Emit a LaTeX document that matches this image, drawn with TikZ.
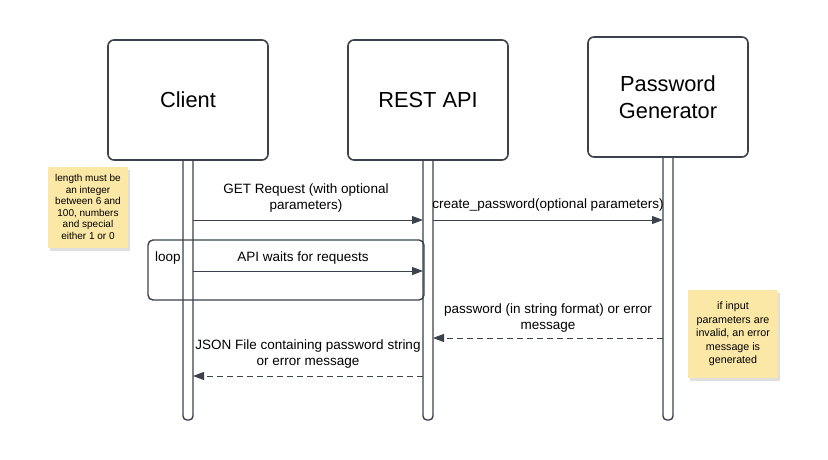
\documentclass[tikz,border=0pt]{standalone}
\usepackage{fontspec}
\setmainfont{Liberation Sans}
\usetikzlibrary{arrows.meta,shadows}
\definecolor{ln}{HTML}{3B424C}
\definecolor{note}{HTML}{FCE8A6}
\tikzset{
  actor/.style={draw=ln, line width=1.6pt, rounded corners=6pt, fill=white, minimum width=160pt, minimum height=120pt, align=center, font=\fontsize{21.8}{27}\selectfont, inner sep=0pt},
  bar/.style={draw=ln, line width=1.4pt, fill=white, rounded corners=4pt},
  msg/.style={draw=ln, line width=0.9pt, -{Triangle[length=11pt,width=8pt]}},
  ret/.style={draw=ln, line width=0.9pt, dash pattern=on 6pt off 4pt, -{Triangle[length=11pt,width=8pt]}},
  lbl/.style={font=\fontsize{13.5}{16.5}\selectfont, align=center, inner sep=0pt},
  notebox/.style={fill=note, align=center, inner sep=2pt, drop shadow={opacity=0.25, shadow xshift=2pt, shadow yshift=-3pt}},
}
\begin{document}
\begin{tikzpicture}[x=1pt,y=-1pt]
\useasboundingbox[fill=white] (0,0) rectangle (828,460);
% lifeline bars
\draw[bar] (183,150) rectangle (193,420);
\draw[bar] (423,150) rectangle (433,420);
\draw[bar] (663,150) rectangle (673,420);
% actors
\node[actor] (client) at (188,100) {Client};
\node[actor] (rest) at (428,100) {REST API};
\node[actor] (pg) at (668,97) {Password\\Generator};
% lifeline anchors
\coordinate (c1) at (193,220); \coordinate (r1) at (423,220);
\coordinate (r1b) at (433,220); \coordinate (p1) at (663,220);
\coordinate (c2) at (193,271); \coordinate (r2) at (423,271);
\coordinate (p3) at (663,338); \coordinate (r3) at (433,338);
\coordinate (r4) at (423,376); \coordinate (c4) at (193,376);
% loop frame
\draw[draw=ln, line width=1.4pt, rounded corners=5pt] (148,240) rectangle (424,300);
\node[lbl, anchor=west] (loop) at (155,258) {loop};
% messages
\draw[msg] (c1) -- (r1);
\node[lbl] (m1) at (306,198) {GET Request (with optional\\parameters)};
\draw[msg] (r1b) -- (p1);
\node[lbl] (m2) at (548,205) {create\_password(optional parameters)};
\draw[msg] (c2) -- (r2);
\node[lbl] (m3) at (303,258) {API waits for requests};
\draw[ret] (p3) -- (r3);
\node[lbl] (m4) at (548,318) {password (in string format) or error\\message};
\draw[ret] (r4) -- (c4);
\node[lbl] (m5) at (308,354) {JSON File containing password string\\or error message};
% notes
\node[notebox, font=\fontsize{10}{11.6}\selectfont, minimum width=80pt, minimum height=81pt] (n1) at (88,207) {length must be\\an integer\\between 6 and\\100, numbers\\and special\\either 1 or 0};
\node[notebox, font=\fontsize{10.7}{13.4}\selectfont, minimum width=90pt, minimum height=88pt] (n2) at (733,334) {if input\\parameters are\\invalid, an error\\message is\\generated};
\end{tikzpicture}
\end{document}
